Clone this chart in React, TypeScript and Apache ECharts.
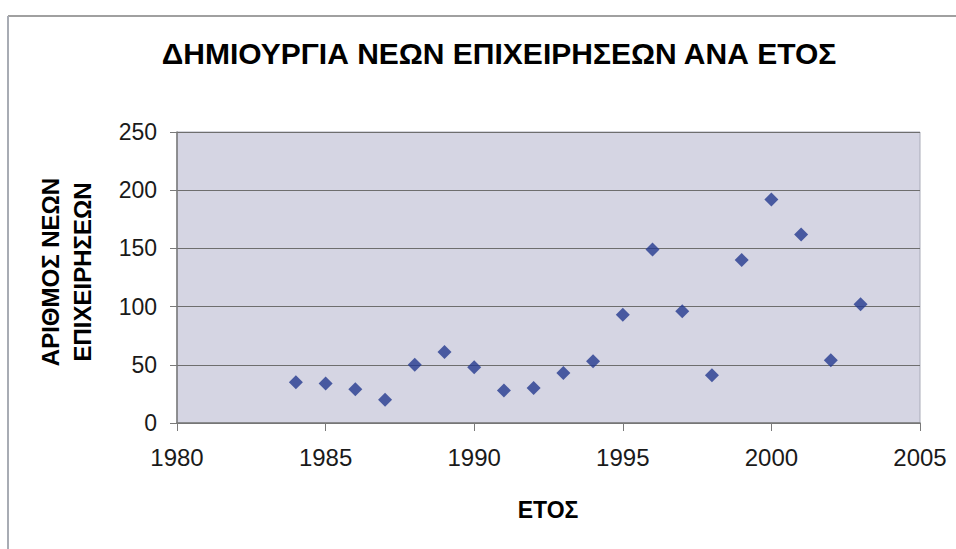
import React, { useEffect, useRef } from "react";
import * as echarts from "echarts";

const years = [1984, 1985, 1986, 1987, 1988, 1989, 1990, 1991, 1992, 1993, 1994, 1995, 1996, 1997, 1998, 1999, 2000, 2001, 2002, 2003];
const newBusinesses = [35, 34, 29, 20, 50, 61, 48, 28, 30, 43, 53, 93, 149, 96, 41, 140, 192, 162, 54, 102];

const titleText = "ΔΗΜΙΟΥΡΓΙΑ ΝΕΩΝ ΕΠΙΧΕΙΡΗΣΕΩΝ ΑΝΑ ΕΤΟΣ";
const xTitle = "ΕΤΟΣ";
const yTitle = "ΑΡΙΘΜΟΣ ΝΕΩΝ\nΕΠΙΧΕΙΡΗΣΕΩΝ";

export default function App() {
  const ref = useRef<HTMLDivElement>(null);
  useEffect(() => {
    if (!ref.current) return;
    const chart = echarts.init(ref.current, undefined, { renderer: "svg" });
    const font = "'Liberation Sans', Arial, sans-serif";
    chart.setOption({
      animation: false,
      backgroundColor: "#ffffff",
      title: {
        text: titleText,
        left: 494,
        top: 33,
        textAlign: "center",
        textStyle: {
          fontFamily: "'Liberation Sans Narrow', 'Arial Narrow', 'Liberation Sans', sans-serif",
          fontWeight: "bold",
          fontSize: 30,
          color: "#000000",
        },
      },
      graphic: [
        { type: "line", shape: { x1: 8, y1: 16, x2: 956, y2: 16 }, style: { stroke: "#a0a0a0", lineWidth: 2 } },
        { type: "line", shape: { x1: 8, y1: 16, x2: 8, y2: 549 }, style: { stroke: "#a8acb4", lineWidth: 2 } },
        {
          type: "text",
          x: 66,
          y: 272,
          rotation: Math.PI / 2,
          style: {
            text: yTitle,
            fontFamily: font,
            fontWeight: "bold",
            fontSize: 24,
            lineHeight: 32,
            align: "center",
            verticalAlign: "middle",
            fill: "#000000",
          },
        },
        {
          type: "text",
          x: 548,
          y: 510,
          style: {
            text: xTitle,
            fontFamily: font,
            fontWeight: "bold",
            fontSize: 23,
            align: "center",
            verticalAlign: "middle",
            fill: "#000000",
          },
        },
      ],
      grid: {
        left: 177,
        top: 132,
        width: 743,
        height: 291,
        show: true,
        backgroundColor: "#d5d5e3",
        borderColor: "#a9abb8",
        borderWidth: 1,
      },
      xAxis: {
        type: "value",
        min: 1980,
        max: 2005,
        interval: 5,
        splitLine: { show: false },
        axisLine: { show: true, lineStyle: { color: "#7a7a7a", width: 1.5 } },
        axisTick: { show: true, inside: false, length: 8, lineStyle: { color: "#7a7a7a" } },
        axisLabel: { fontFamily: font, fontSize: 24, color: "#1a1a1a", margin: 22, formatter: (v: number) => String(v) },
      },
      yAxis: {
        type: "value",
        min: 0,
        max: 250,
        interval: 50,
        splitLine: { show: true, lineStyle: { color: "#6e6e6e", width: 1 } },
        axisLine: { show: true, lineStyle: { color: "#7a7a7a", width: 1.5 } },
        axisTick: { show: true, inside: false, length: 7, lineStyle: { color: "#7a7a7a" } },
        axisLabel: { fontFamily: font, fontSize: 23, color: "#1a1a1a", margin: 20 },
      },
      series: [
        {
          type: "scatter",
          data: years.map((y, i) => [y, newBusinesses[i]]),
          symbol: "diamond",
          symbolSize: 14,
          itemStyle: { color: "#243a8e" },
        },
      ],
    });
    return () => chart.dispose();
  }, []);
  return <div ref={ref} style={{ position: "fixed", left: 0, top: 0, width: 956, height: 549 }} />;
}
